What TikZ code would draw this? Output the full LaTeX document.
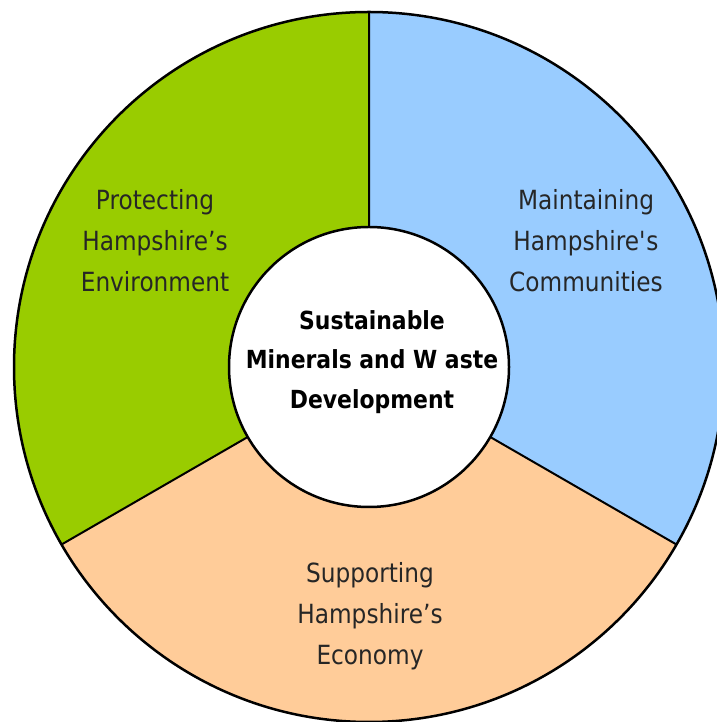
\documentclass[tikz,border=0pt]{standalone}
\usepackage{fontspec}
\setmainfont{DejaVu Sans}[FakeStretch=0.88]
\usepackage{xcolor}
\usepackage{tikz}
\definecolor{envgreen}{HTML}{99CC00}
\definecolor{comblue}{HTML}{99CCFF}
\definecolor{ecopeach}{HTML}{FFCC99}
\def\Rout{355}
\def\Rin{140}
\begin{document}
\begin{tikzpicture}[x=1bp,y=1bp,
    seglabel/.style={align=center,font=\fontsize{26.5}{41}\selectfont,text=black!85},
    hublabel/.style={align=center,font=\bfseries\fontsize{25}{40}\selectfont},
    divider/.style={line width=2bp}]
  \useasboundingbox (0,0) rectangle (717,722);
  \clip (0,0) rectangle (717,722);
  \coordinate (c) at (369,355);
  % the three sectors
  \fill[envgreen,shift={(c)}] (0,0) -- (90:\Rout) arc[start angle=90,end angle=210,radius=\Rout] -- cycle;
  \fill[comblue,shift={(c)}] (0,0) -- (-30:\Rout) arc[start angle=-30,end angle=90,radius=\Rout] -- cycle;
  \fill[ecopeach,shift={(c)}] (0,0) -- (210:\Rout) arc[start angle=210,end angle=330,radius=\Rout] -- cycle;
  \path[divider,draw,shift={(c)}]
    (90:\Rin) -- (90:\Rout)
    (210:\Rin) -- (210:\Rout)
    (330:\Rin) -- (330:\Rout);
  \draw[line width=2.5bp] (c) circle[radius=\Rout];
  \draw[line width=2.5bp,fill=white] (c) circle[radius=\Rin];

  \node[seglabel] (env) at (155,481) {Protecting\\Hampshire’s\\Environment};
  \node[seglabel] (com) at (586,481) {Maintaining\\Hampshire\textquotesingle s\\Communities};
  \node[seglabel] (eco) at (370,106) {Supporting\\Hampshire’s\\Economy};
  \node[hublabel] (hub) at (372,360) {Sustainable\\Minerals and W aste\\Development};
\end{tikzpicture}
\end{document}
